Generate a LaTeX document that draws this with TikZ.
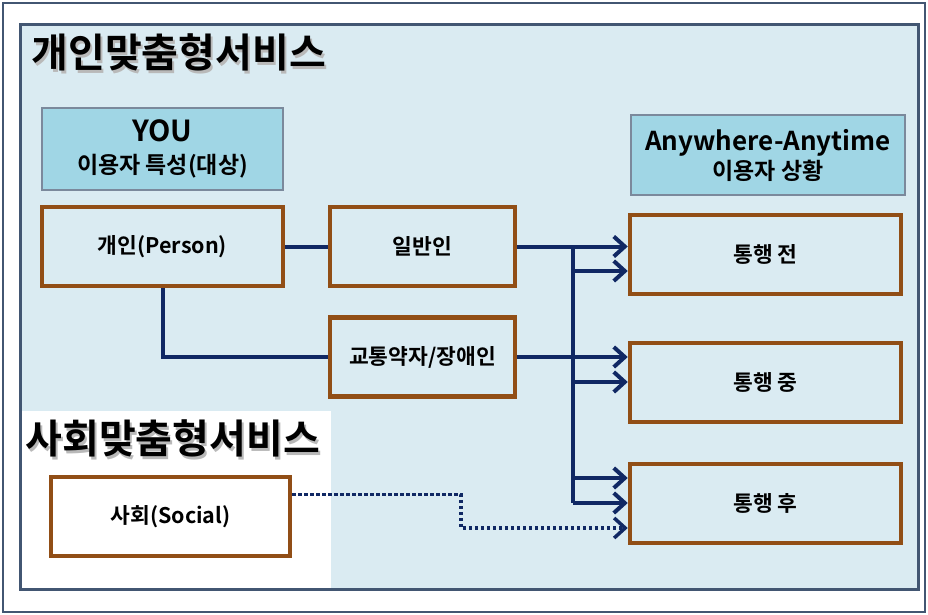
\documentclass[tikz,border=0pt]{standalone}
\usepackage{fontspec}
\setmainfont{Noto Sans CJK KR}[BoldFont={Noto Sans CJK KR Bold}]
\usetikzlibrary{arrows.meta}
\definecolor{navy}{RGB}{16,40,100}
\definecolor{rust}{RGB}{145,78,22}
\definecolor{panel}{RGB}{218,235,242}
\definecolor{slate}{RGB}{66,86,114}
\definecolor{sky}{RGB}{160,214,229}
\newcommand{\titlefont}{\fontsize{40}{44}\selectfont\bfseries}
\newcommand{\boxfont}{\fontsize{21.5}{25}\selectfont\bfseries}

\begin{document}
\begin{tikzpicture}[x=1pt,y=-1pt,
	box/.style={draw=rust,line width=4.5pt,fill=panel,minimum width=#1,minimum height=79pt,inner sep=0pt,font=\boxfont},
	head/.style={draw=slate!70,line width=2pt,fill=sky,inner sep=0pt,align=center},
	link/.style={navy,line width=4pt},
	flow/.style={link,-{Straight Barb[length=11pt,width=20pt]}}]
\useasboundingbox (0,0) rectangle (928,615);
\draw[slate,line width=2.5pt,fill=white] (3,3) rectangle (925,612);
\draw[slate,line width=3pt,fill=panel] (20,25) rectangle (918,589);
\fill[white] (21.5,411) rectangle (331,587.5);

\node[anchor=west,text=gray!55,font=\titlefont] (t1s) at (30,55) {개인맞춤형서비스};
\node[anchor=west,font=\titlefont] (t1) at (28,52) {개인맞춤형서비스};
\node[anchor=west,text=gray!55,font=\titlefont] (t2s) at (24,441) {사회맞춤형서비스};
\node[anchor=west,font=\titlefont] (t2) at (22,438) {사회맞춤형서비스};

\node[head,minimum width=241pt,minimum height=82pt,font=\fontsize{23}{32}\selectfont\bfseries] (you) at (162.5,149)
	{{\fontsize{29}{32}\selectfont YOU}\\이용자 특성(대상)};
\node[head,minimum width=274pt,minimum height=80pt,font=\fontsize{23}{29}\selectfont\bfseries] (when) at (768,155)
	{{\fontsize{26}{29}\selectfont Anywhere-Anytime}\\이용자 상황};

\node[box=241pt] (person) at (162.5,246.5) {개인(Person)};
\node[box=185pt] (general) at (422.5,246.5) {일반인};
\node[box=185pt] (weak) at (422.5,357) {교통약자/장애인};
\node[box=271pt] (before) at (765.5,254.5) {통행 전};
\node[box=271pt] (during) at (765.5,382.5) {통행 중};
\node[box=271pt] (after) at (765.5,503.5) {통행 후};
\node[box=239pt,fill=white] (social) at (170.5,516.5) {사회(Social)};

\coordinate (bus1) at (573,246.5);
\coordinate (bus2) at (573,271);
\coordinate (bus3) at (573,382);
\coordinate (bus4) at (573,478);
\coordinate (bus5) at (573,503);
\coordinate (turn) at (461,528);

\draw[link] (person) -- (general);
\draw[link] (person.south) |- (weak.west);
\draw[link] (bus1) -- (bus5);
\draw[flow] (general.east) -- (general.east -| before.west);
\draw[flow] (bus2) -- (bus2 -| before.west);
\draw[flow] (weak.east) -- (weak.east -| during.west);
\draw[flow] (bus3) -- (bus3 -| during.west);
\draw[flow] (bus4) -- (bus4 -| after.west);
\draw[flow] (bus5) -- (bus5 -| after.west);
\draw[flow,line width=3.5pt,dash pattern=on 3.5pt off 2.5pt] ([yshift=22pt]social.east) -| (turn) -- (turn -| after.west);
\end{tikzpicture}
\end{document}
